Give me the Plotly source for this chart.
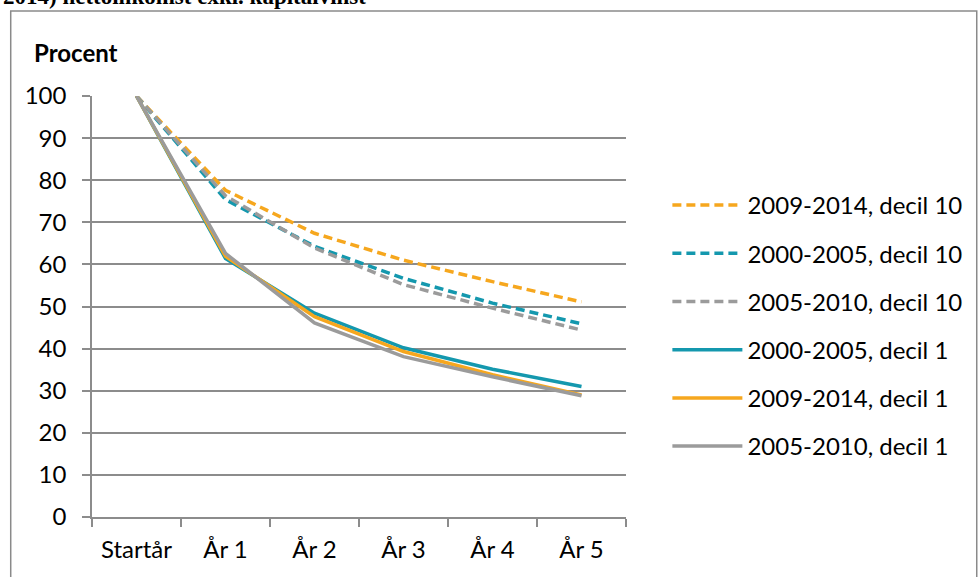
import plotly.graph_objects as go

categories = ["Startår", "År 1", "År 2", "År 3", "År 4", "År 5"]

series_names = [
    "2009-2014, decil 10",
    "2000-2005, decil 10",
    "2005-2010, decil 10",
    "2000-2005, decil 1",
    "2009-2014, decil 1",
    "2005-2010, decil 1",
]
d10_2009_2014 = [100, 77.6, 67.4, 61.0, 55.9, 51.1]
d10_2000_2005 = [100, 75.4, 64.3, 56.7, 50.8, 45.9]
d10_2005_2010 = [100, 76.3, 63.9, 55.2, 49.6, 44.4]
d1_2000_2005 = [100, 61.4, 48.4, 40.2, 35.1, 31.0]
d1_2009_2014 = [100, 61.9, 47.6, 39.3, 33.8, 29.0]
d1_2005_2010 = [100, 62.6, 46.1, 38.1, 33.3, 28.8]
y_ticks = [0, 10, 20, 30, 40, 50, 60, 70, 80, 90, 100]

ORANGE = "#F6A71E"
TEAL = "#1498AE"
GRAY = "#9B9B9B"
GRID = "#8C8C8C"
FONT = "Lato"
FS = 24

values = [d10_2009_2014, d10_2000_2005, d10_2005_2010, d1_2000_2005, d1_2009_2014, d1_2005_2010]
colors = [ORANGE, TEAL, GRAY, TEAL, ORANGE, GRAY]
dashes = ["9px,5px", "9px,5px", "9px,5px", "solid", "solid", "solid"]

W, H = 979, 577
L, R, T, B = 92, 345, 96, 60
PW = W - L - R
PH = H - T - B


def px(x):
    return (x - L) / PW


def py(y):
    return (H - B - y) / PH


fig = go.Figure()
for i, (name, vals, col, dsh) in enumerate(zip(series_names, values, colors, dashes)):
    fig.add_trace(go.Scatter(
        x=categories, y=vals, name=name, mode="lines",
        line=dict(color=col, width=3.5, dash=dsh),
        legendgroup="g%d" % i,
    ))

fig.update_layout(
    width=W, height=H,
    margin=dict(l=L, r=R, t=T, b=B, pad=0),
    paper_bgcolor="white", plot_bgcolor="white",
    font=dict(family=FONT, size=FS, color="black"),
    showlegend=True,
    legend=dict(
        x=px(676), y=py(183), xanchor="left", yanchor="top",
        font=dict(family=FONT, size=FS, color="black"),
        tracegroupgap=14, itemwidth=70, bgcolor="rgba(0,0,0,0)",
    ),
    xaxis=dict(
        type="category", range=[-0.5, 5.5],
        showline=True, linecolor=GRID, linewidth=1.5,
        ticks="outside", ticklen=8, tickcolor=GRID, tickwidth=1.5,
        tickson="boundaries", showgrid=False,
        tickfont=dict(family=FONT, size=FS, color="black"),
        ticklabelstandoff=10,
    ),
    yaxis=dict(
        range=[0, 100], tickvals=y_ticks,
        showline=True, linecolor=GRID, linewidth=1.5,
        ticks="outside", ticklen=8, tickcolor=GRID, tickwidth=1.5,
        showgrid=True, gridcolor=GRID, gridwidth=1.5,
        zeroline=False,
        tickfont=dict(family=FONT, size=FS, color="black"),
        ticklabelstandoff=11,
    ),
)

# outer frame (partially cropped, as in the reference)
fig.add_shape(type="rect", xref="paper", yref="paper",
              x0=px(9.5), x1=px(990), y0=py(600), y1=py(11),
              line=dict(color="#8A8A8A", width=1.5), fillcolor="rgba(0,0,0,0)",
              layer="below")

fig.add_annotation(text="<b>Procent</b>", xref="paper", yref="paper",
                   x=px(31), y=py(52), xanchor="left", yanchor="middle",
                   showarrow=False, font=dict(family=FONT, size=FS, color="black"))

fig.add_annotation(text="<b>2014) nettoinkomst exkl. kapitalvinst</b>", xref="paper", yref="paper",
                   x=px(0), y=py(11), xanchor="left", yanchor="bottom",
                   showarrow=False, font=dict(family="Liberation Serif", size=23, color="black"))

fig.write_html("out.html", config={"displayModeBar": False},
               post_script="document.body.style.margin='0px';document.body.style.overflow='hidden';")
